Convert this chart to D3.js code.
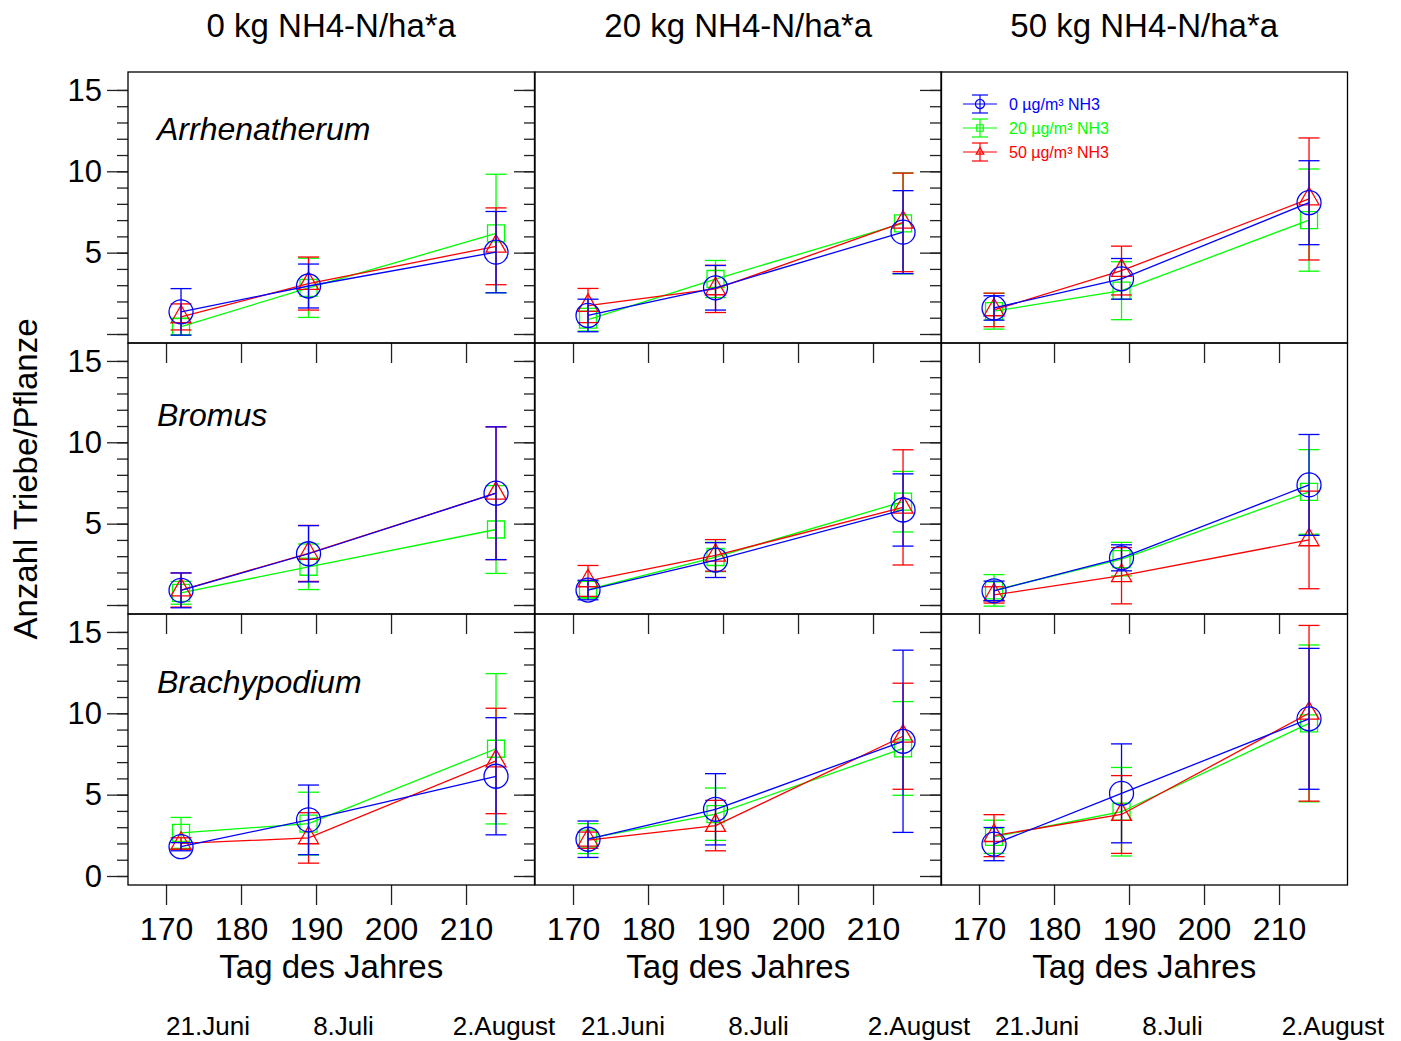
<!DOCTYPE html>
<html>
<head>
<meta charset="utf-8">
<script src="https://cdn.jsdelivr.net/npm/d3@7"></script>
<style>
  html, body { margin: 0; padding: 0; background: #fff; }
  svg { display: block; }
  text { font-family: "Liberation Sans", Arial, Helvetica, sans-serif; fill: #000; }
</style>
</head>
<body>
<svg id="chart" width="1401" height="1041"></svg>
<script>
// ---------------- data ----------------
const days = [172, 189, 214];
const nitrogenLevels = ["0 kg NH4-N/ha*a", "20 kg NH4-N/ha*a", "50 kg NH4-N/ha*a"];
const speciesNames = ["Arrhenatherum", "Bromus", "Brachypodium"];
const ammoniaLevels = ["0 µg/m³ NH3", "20 µg/m³ NH3", "50 µg/m³ NH3"];
const dateLabels = ["21.Juni", "8.Juli", "2.August"];
const xTickValues = [170, 180, 190, 200, 210];
const yTickValues = [0, 5, 10, 15];
const yMinorTickValues = d3.range(0, 16);
const xAxisTitle = "Tag des Jahres";
const yAxisTitle = "Anzahl Triebe/Pflanze";

// means: [nitrogen level][NH3 level][day]
const meanArrhenatherum = [
  [[1.36, 2.95, 5.03], [0.45, 2.84, 6.18], [1.05, 3.10, 5.39]],
  [[1.14, 2.84, 6.26], [0.88, 3.38, 6.80], [1.75, 2.77, 6.86]],
  [[1.60, 3.39, 8.07], [1.40, 2.66, 7.00], [1.48, 3.90, 8.30]]
];
const errArrhenatherum = [
  [[1.43, 1.35, 2.50], [0.50, 1.82, 3.64], [0.80, 1.63, 2.36]],
  [[1.00, 1.37, 2.55], [0.70, 1.14, 3.10], [1.05, 1.45, 3.03]],
  [[0.75, 1.25, 2.58], [1.10, 1.78, 3.14], [1.03, 1.50, 3.75]]
];
const meanBromus = [
  [[0.90, 3.15, 6.87], [0.75, 2.35, 4.64], [0.92, 3.17, 6.87]],
  [[0.92, 2.76, 5.84], [0.95, 2.95, 6.35], [1.48, 3.05, 6.00]],
  [[0.87, 2.90, 7.38], [0.90, 2.82, 6.95], [0.62, 1.80, 4.00]]
];
const errBromus = [
  [[1.07, 1.73, 4.08], [0.70, 1.40, 2.70], [1.05, 1.72, 4.08]],
  [[0.60, 1.07, 2.22], [0.50, 0.90, 1.86], [0.95, 0.97, 3.54]],
  [[0.60, 0.80, 3.10], [0.97, 1.03, 2.60], [0.50, 1.73, 3.00]]
];
const meanBrachypodium = [
  [[1.80, 3.45, 6.13], [2.65, 3.22, 7.82], [2.00, 2.34, 7.07]],
  [[2.26, 4.10, 8.28], [2.30, 3.80, 7.84], [2.20, 3.10, 8.59]],
  [[1.96, 5.08, 9.66], [2.41, 3.95, 9.38], [2.48, 3.78, 10.00]]
];
const errBrachypodium = [
  [[0.25, 2.14, 3.60], [0.95, 1.93, 4.62], [0.35, 1.55, 3.24]],
  [[1.12, 2.19, 5.60], [0.92, 1.61, 2.88], [0.50, 1.55, 3.26]],
  [[1.02, 3.04, 4.33], [1.02, 2.72, 4.82], [1.29, 2.39, 5.40]]
];

const speciesMeans = [meanArrhenatherum, meanBromus, meanBrachypodium];
const speciesErrs = [errArrhenatherum, errBromus, errBrachypodium];

// ---------------- layout ----------------
const colX = [128, 535, 941];
const panelW = 406.5;
const rowY = [72, 343, 614];
const panelH = 271;
const seriesColors = ["#0000ff", "#00ff00", "#ff0000"];
const seriesShapes = ["circle", "square", "triangle"];
const drawOrder = [1, 2, 0];
const speciesBaselineOffset = [68, 83, 79];
const dateLabelOffsets = [80, 215.5, 376];

const svg = d3.select("#chart");

const x = d3.scaleLinear().domain([164.93, 219.13]).range([0, panelW]);
const y = d3.scaleLinear().domain([-0.553, 16.103]).range([panelH, 0]);

function markerPath(shape, s) {
  if (shape === "circle") {
    const r = 12 * s;
    return `M${-r},0A${r},${r} 0 1,0 ${r},0A${r},${r} 0 1,0 ${-r},0Z`;
  }
  if (shape === "square") {
    const h = 8.5 * s;
    return `M${-h},${-h}H${h}V${h}H${-h}Z`;
  }
  const hw = 10 * s, ht = 17.5 * s;
  return `M0,${-2 * ht / 3}L${hw},${ht / 3}L${-hw},${ht / 3}Z`;
}

for (let r = 0; r < 3; r++) {
  for (let c = 0; c < 3; c++) {
    const g = svg.append("g").attr("transform", `translate(${colX[c]},${rowY[r]})`);

    // bottom axis with outward ticks
    const xa = g.append("g").attr("transform", `translate(0,${panelH})`)
      .call(d3.axisBottom(x).tickValues(xTickValues).tickSize(20)
        .tickFormat(r === 2 ? d3.format("d") : () => ""));
    xa.select(".domain").remove();
    xa.selectAll(".tick line").attr("stroke", "#222").attr("stroke-width", 1.3);
    xa.selectAll(".tick text").attr("font-size", 32).attr("dy", 0).attr("y", 55)
      .attr("font-family", '"Liberation Sans", Arial, sans-serif');

    // left axis: minor ticks
    const ym = g.append("g")
      .call(d3.axisLeft(y).tickValues(yMinorTickValues).tickSize(11).tickFormat(() => ""));
    ym.select(".domain").remove();
    ym.selectAll(".tick line").attr("stroke", "#222").attr("stroke-width", 1.3);

    // left axis: major ticks
    const ticksHere = r === 2 ? yTickValues : yTickValues.filter(v => v > 0);
    const yaxis = g.append("g")
      .call(d3.axisLeft(y).tickValues(yTickValues).tickSize(21)
        .tickFormat(v => (c === 0 && ticksHere.includes(v)) ? d3.format("d")(v) : ""));
    yaxis.select(".domain").remove();
    yaxis.selectAll(".tick line").attr("stroke", "#222").attr("stroke-width", 1.3);
    yaxis.selectAll(".tick text").attr("font-size", 31).attr("x", -26).attr("dy", "0.33em")
      .attr("font-family", '"Liberation Sans", Arial, sans-serif');

    // frame
    g.append("rect").attr("x", 0).attr("y", 0).attr("width", panelW).attr("height", panelH)
      .attr("fill", "none").attr("stroke", "#000").attr("stroke-width", 1.3);

    // species label
    if (c === 0) {
      g.append("text").attr("x", 29).attr("y", speciesBaselineOffset[r])
        .attr("font-size", 32).attr("font-style", "italic").text(speciesNames[r]);
    }

    // series
    const means = speciesMeans[r][c];
    const errs = speciesErrs[r][c];
    drawOrder.forEach(s => {
      const col = seriesColors[s];
      const pts = days.map((d, i) => ({ d, m: means[s][i], e: errs[s][i] }));
      const sg = g.append("g");
      sg.append("path").datum(pts)
        .attr("d", d3.line().x(p => x(p.d)).y(p => y(p.m)))
        .attr("fill", "none").attr("stroke", col).attr("stroke-width", 1.3);
      pts.forEach(p => {
        const px = x(p.d);
        const y1 = y(p.m + p.e), y0 = y(p.m - p.e);
        sg.append("line").attr("x1", px).attr("x2", px).attr("y1", y1).attr("y2", y0)
          .attr("stroke", col).attr("stroke-width", 1.3);
        [y1, y0].forEach(yy => sg.append("line").attr("x1", px - 10.5).attr("x2", px + 10.5)
          .attr("y1", yy).attr("y2", yy).attr("stroke", col).attr("stroke-width", 1.3));
        sg.append("path").attr("d", markerPath(seriesShapes[s], 1))
          .attr("transform", `translate(${px},${y(p.m)})`)
          .attr("fill", "none").attr("stroke", col).attr("stroke-width", 1.3);
      });
    });

    // legend
    if (r === 0 && c === 2) {
      ammoniaLevels.forEach((lab, i) => {
        const ly = 32 + i * 24;
        const lg = g.append("g").attr("transform", `translate(0,${ly})`);
        const col = seriesColors[i];
        lg.append("line").attr("x1", 22).attr("x2", 56).attr("y1", 0).attr("y2", 0)
          .attr("stroke", col).attr("stroke-width", 1.2);
        lg.append("line").attr("x1", 39).attr("x2", 39).attr("y1", -9).attr("y2", 9)
          .attr("stroke", col).attr("stroke-width", 1.2);
        [-9, 9].forEach(yy => lg.append("line").attr("x1", 31).attr("x2", 47)
          .attr("y1", yy).attr("y2", yy).attr("stroke", col).attr("stroke-width", 1.2));
        lg.append("path").attr("d", markerPath(seriesShapes[i], 0.38))
          .attr("transform", "translate(39,0)")
          .attr("fill", "none").attr("stroke", col).attr("stroke-width", 1.2);
        lg.append("text").attr("x", 68).attr("y", 0).attr("dy", "0.36em")
          .attr("font-size", 16).style("fill", col).text(lab);
      });
    }
  }
}

// column titles, x titles, date labels
for (let c = 0; c < 3; c++) {
  const cx = colX[c] + panelW / 2;
  svg.append("text").attr("x", cx).attr("y", 37).attr("text-anchor", "middle")
    .attr("font-size", 33).text(nitrogenLevels[c]);
  svg.append("text").attr("x", cx).attr("y", 978).attr("text-anchor", "middle")
    .attr("font-size", 33).text(xAxisTitle);
  dateLabels.forEach((lab, i) => {
    svg.append("text").attr("x", colX[c] + dateLabelOffsets[i] + c * 8).attr("y", 1035)
      .attr("text-anchor", "middle").attr("font-size", 26).text(lab);
  });
}

// y axis title
svg.append("text")
  .attr("transform", "translate(37,479) rotate(-90)")
  .attr("text-anchor", "middle").attr("font-size", 33).text(yAxisTitle);
</script>
</body>
</html>
